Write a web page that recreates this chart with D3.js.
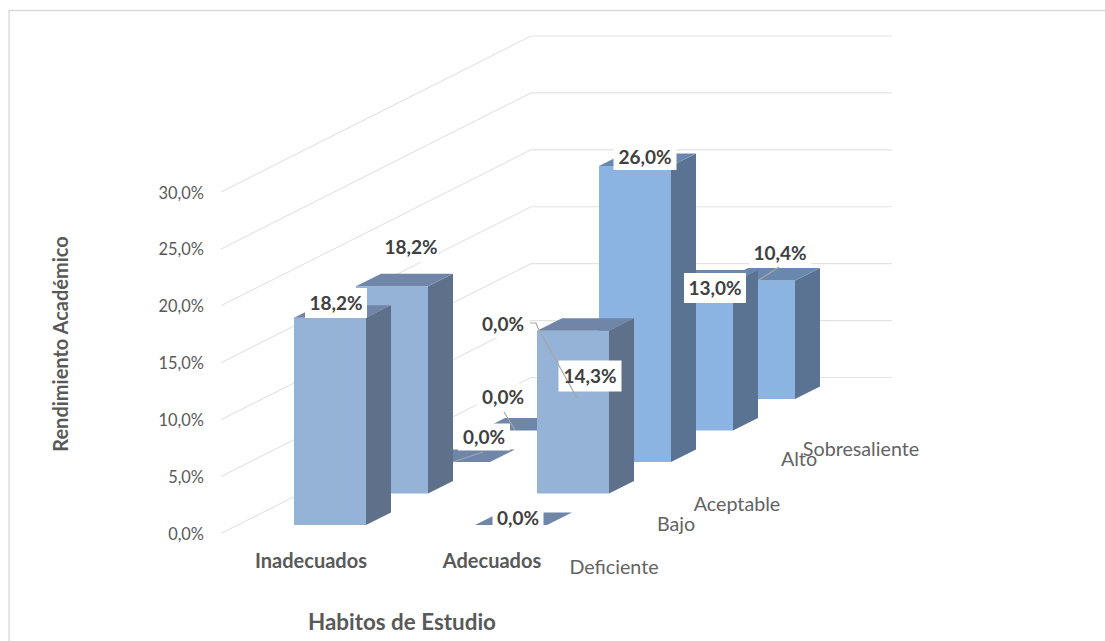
<!DOCTYPE html>
<html><head><meta charset="utf-8">
<style>html,body{margin:0;padding:0;background:#fff;overflow:hidden}svg{display:block}text{font-family:Lato,"Open Sans",sans-serif}</style>
<script src="https://cdn.jsdelivr.net/npm/d3@7/dist/d3.min.js"></script></head><body>
<svg id="c" width="1105" height="641"></svg>
<script>
const series = ["Inadecuados","Adecuados"];
const levels = ["Deficiente","Bajo","Aceptable","Alto","Sobresaliente"];
const inadecuados = [18.2,18.2,0,0,0];
const adecuados = [0,14.3,26.0,13.0,10.4];
const ticks = [0,5,10,15,20,25,30];
const fmt = v => v.toFixed(1).replace(".",",")+"%";

const svg = d3.select("#c");
svg.append("path").attr("d","M9,641V10.5H1105").attr("fill","none").attr("stroke","#D9D9D9").attr("stroke-width",1.3);

// oblique projection built from scales
const yVal = d3.scaleLinear().domain([0,30]).range([0,-341.5]);
const depthX = d3.scaleLinear().domain([0,5]).range([0,310]);
const depthY = d3.scaleLinear().domain([0,5]).range([533.5,377.5]);
const colX = d3.scaleBand().domain(series).range([294,294+362]);
const barW = 72, barDX = 25, barDY = -12.5, rowDX = 62, rowDY = -31.5;
const P = (c,r,v)=>[colX(c)+r*rowDX, 525+r*rowDY+yVal(v)];

// gridlines
const g = svg.append("g").attr("fill","none").attr("stroke","#E3E3E3").attr("stroke-width",1.1);
ticks.forEach(t=>{
  const y0 = depthY(0)+yVal(t), y1 = depthY(5)+yVal(t);
  g.append("polyline").attr("points",`221,${y0} ${221+depthX(5)},${y1} 892,${y1}`);
});
ticks.forEach(t=>svg.append("text").attr("x",204).attr("y",depthY(0)+yVal(t)+6.5).attr("text-anchor","end")
  .attr("font-size",16.4).attr("fill","#595959").text(fmt(t)));

// bars back to front
const colors = {
  light:{f:"#95B3D7",s:"#5F708A",t:"#6F86A8"},
  bright:{f:"#8BB4E3",s:"#5A7393",t:"#6A88AF"}
};
const bars = [];
levels.forEach((l,r)=>{
  bars.push({c:"Inadecuados",r,v:inadecuados[r]});
  bars.push({c:"Adecuados",r,v:adecuados[r]});
});
bars.sort((a,b)=>b.r-a.r||d3.ascending(series.indexOf(a.c),series.indexOf(b.c)));
const poly=(pts,fill)=>svg.append("polygon").attr("points",pts.map(p=>p.join(",")).join(" ")).attr("fill",fill);
bars.forEach(b=>{
  const pal = (b.c==="Adecuados"&&b.r>=2)?colors.bright:colors.light;
  const [x,yt]=P(b.c,b.r,b.v), yb=P(b.c,b.r,0)[1];
  if(b.v>0){
    poly([[x,yt],[x+barW,yt],[x+barW,yb],[x,yb]],pal.f);
    poly([[x+barW,yt],[x+barW+barDX,yt+barDY],[x+barW+barDX,yb+barDY],[x+barW,yb]],pal.s);
  }
  poly([[x,yt],[x+barDX,yt+barDY],[x+barW+barDX,yt+barDY],[x+barW,yt]],pal.t);
});

// data labels: white box, leader, text
const labelPos = {
  "Inadecuados":[[336,303,62,30],[411,247,56,30],[484,437,52,27],[503,397,52,27],[503,324,52,28]],
  "Adecuados":[[518,518,51,28],[590,376,63,31],[645,157,63,26],[715,288,62,30],[780,253,62,28]]
};
const leaders = [
  [[483,452],[453,462]],
  [[504,412],[515,430]],
  [[530,323],[536,323],[538,328],[577,398]],
  [[779,267],[759,280]]
];
const vals = {Inadecuados:inadecuados,Adecuados:adecuados};
series.forEach(s=>labelPos[s].forEach(p=>{
  svg.append("rect").attr("x",p[0]-p[2]/2).attr("y",p[1]-p[3]/2).attr("width",p[2]).attr("height",p[3]).attr("fill","#fff");
}));
const line=d3.line();
leaders.forEach(l=>svg.append("path").attr("d",line(l)).attr("fill","none").attr("stroke","#A6A6A6").attr("stroke-width",1.2));
series.forEach(s=>labelPos[s].forEach((p,i)=>{
  svg.append("text").attr("x",p[0]).attr("y",p[1]+6.5).attr("text-anchor","middle")
   .attr("font-size",19).attr("font-weight",700).attr("fill","#404040").text(fmt(vals[s][i]));
}));

// axis labels
const serX=[311,492];
series.forEach((s,i)=>svg.append("text").attr("x",serX[i]).attr("y",568).attr("text-anchor","middle")
  .attr("font-size",20).attr("font-weight",700).attr("fill","#595959").text(s));
const levelPos=[[614,574],[676,531],[737,511],[799,466],[861,456]];
levels.forEach((l,i)=>svg.append("text").attr("x",levelPos[i][0]).attr("y",levelPos[i][1]).attr("text-anchor","middle")
  .attr("font-size",19.7).attr("fill","#636363").text(l));
svg.append("text").attr("x",402).attr("y",630).attr("text-anchor","middle").attr("font-size",22.4).attr("font-weight",700)
  .attr("fill","#595959").text("Habitos de Estudio");
svg.append("text").attr("transform","translate(68,344) rotate(-90)").attr("text-anchor","middle").attr("font-size",20)
  .attr("font-weight",700).attr("fill","#595959").text("Rendimiento Académico");
</script></body></html>
